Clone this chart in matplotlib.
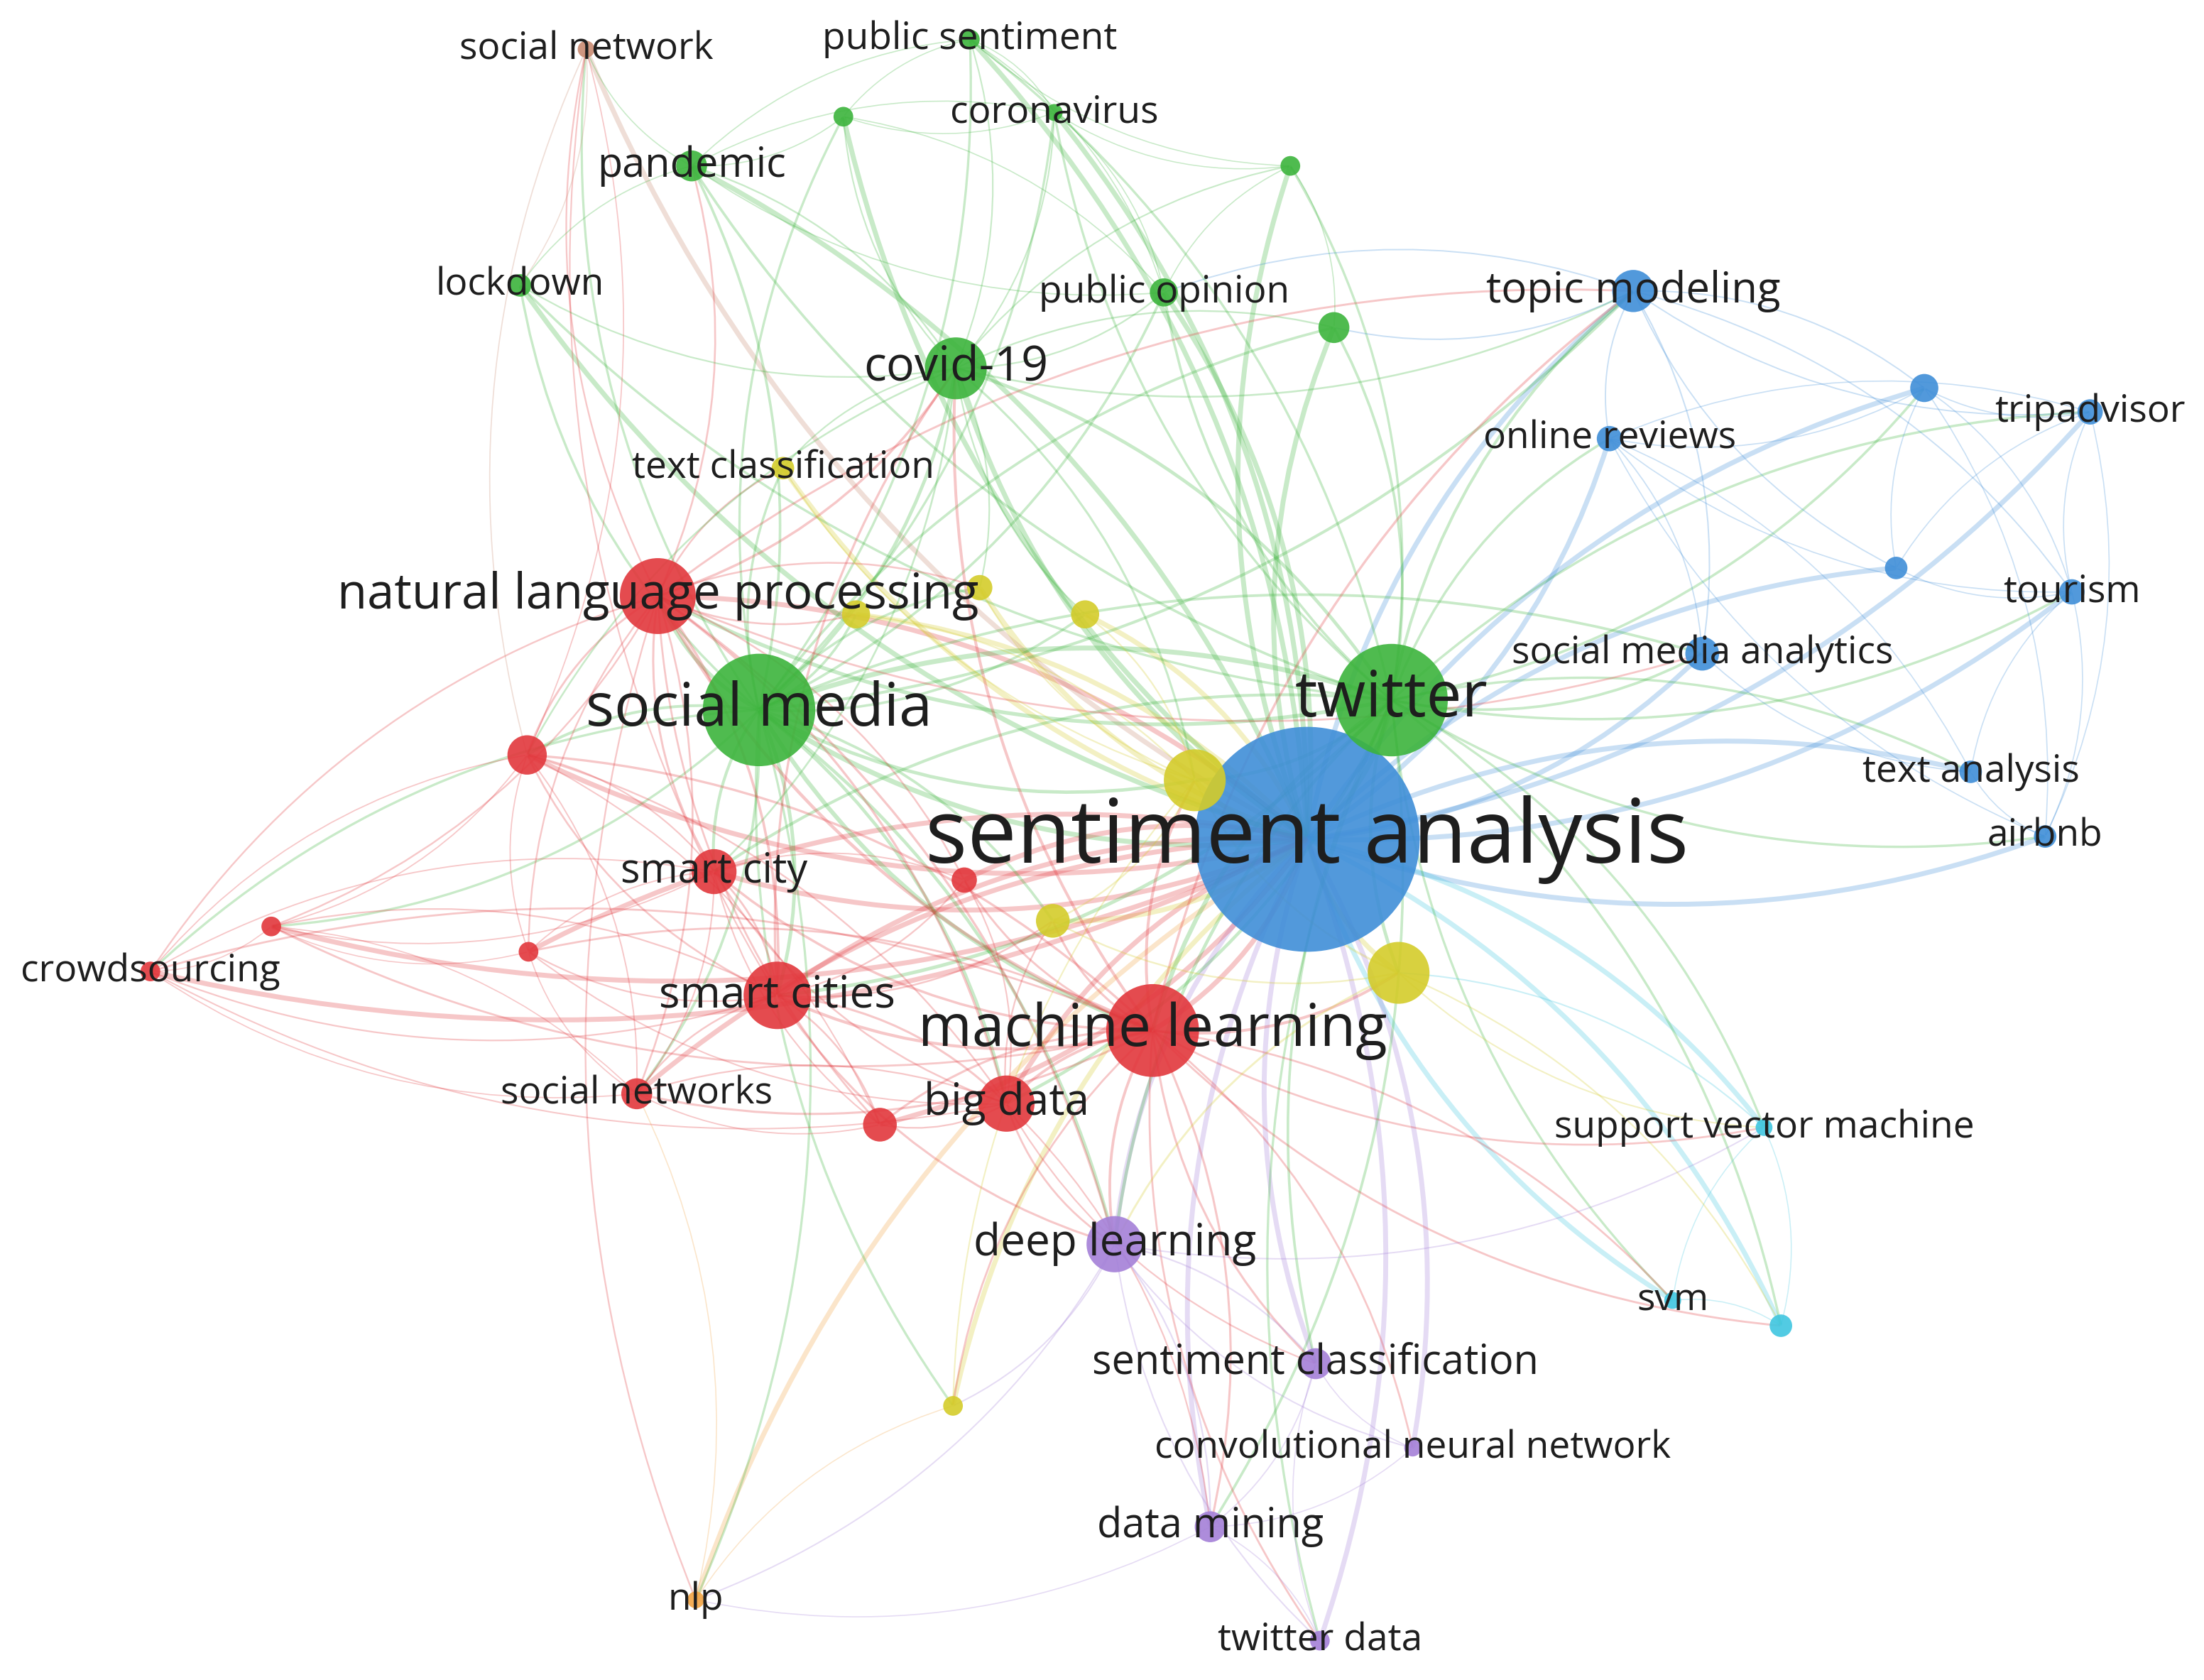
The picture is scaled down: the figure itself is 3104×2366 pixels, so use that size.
import matplotlib
matplotlib.use("Agg")
import matplotlib.pyplot as plt
from matplotlib.patches import FancyArrowPatch

# node data (coordinates in reference half-scale pixels)
keys = ["sa","tw","sm","nlp","ml","sc","cov","bd","scity","dl","tm","sma",
        "y1","y2","y3","y4","y5","y6","tc","y7",
        "r1","r2","r3","sn","r4","r5","crowd",
        "pan","lock","ps","g1","coro","g2","po","g3",
        "or","b1","trip","b2","tour","ta","air",
        "svm1","svm","c1","scl","cnn","dm","td","nlpo","snet"]
labels = ["sentiment analysis","twitter","social media","natural language processing","machine learning",
          "smart cities","covid-19","big data","smart city","deep learning","topic modeling","social media analytics",
          "","","","","","","text classification","",
          "","","","social networks","","","crowdsourcing",
          "pandemic","lockdown","public sentiment","","coronavirus","","public opinion","",
          "online reviews","","tripadvisor","","tourism","text analysis","airbnb",
          "support vector machine","svm","","sentiment classification","convolutional neural network",
          "data mining","twitter data","nlp","social network"]
xs = [930,990,540,468,820,553,680,716,508,793,1162,1211,
      850,995,749,772,697,609,557,678,
      375,686,626,453,376,193,107,
      492,370,690,600,750,918,828,949,
      1145,1369,1487,1349,1474,1402,1455,
      1255,1190,1267,936,1005,861,939,495,417]
ys = [597,498,505,424,733,708,262,785,620,885,207,465,
      555,692,655,437,418,437,333,1000,
      537,626,800,778,677,659,691,
      118,203,28,83,80,118,208,233,
      312,276,293,404,421,549,595,
      802,925,943,970,1030,1086,1167,1138,35]
radii = [80,40,40,27,33,24,22,20,16,20,15,12,
         22,22,12,10,9,10,8,7,
         14,9,12,11,7,7,7,
         11,8,7,7,6,7,10,11,
         9,10,9,8,9,8,8,
         6,6,8,11,6,11,7,6,6]
clusters = ["b","g","g","r","r","r","g","r","r","p","b","b",
            "y","y","y","y","y","y","y","y",
            "r","r","r","r","r","r","r",
            "g","g","g","g","g","g","g","g",
            "b","b","b","b","b","b","b",
            "c","c","c","p","p","p","p","o","n"]
fsizes = [56,40,38,31,37,28,30,28,26,28,27,24,
          0,0,0,0,0,0,24,0,
          0,0,0,24,0,0,24,
          26,24,24,0,24,0,24,0,
          24,0,24,0,24,24,24,
          24,24,0,26,24,26,24,24,24]

neighbors = {
 "sa": ["tw","sm","nlp","ml","sc","cov","bd","scity","dl","tm","sma","y1","y2","y3","y4","y5","y6","tc","y7",
        "r1","r2","r3","sn","crowd","pan","lock","ps","g1","coro","g2","po","g3","or","b1","trip","b2","tour",
        "ta","air","svm1","svm","c1","scl","cnn","dm","td","nlpo","snet","r4","r5"],
 "tw": ["sm","nlp","ml","sc","cov","bd","dl","tm","sma","y1","y2","po","g3","or","b1","trip","tour","ta","air",
        "svm1","svm","c1","scl","dm","td","pan","ps","coro","g2","lock","scity"],
 "sm": ["nlp","ml","sc","cov","bd","scity","dl","tm","sma","y1","y3","y4","y5","y6","tc","r1","sn","pan","lock",
        "po","g3","crowd","r5","ps","g1","coro","nlpo","y7","snet"],
 "nlp": ["ml","sc","cov","bd","scity","dl","r1","r2","r3","sn","crowd","r5","r4","y5","y6","tc","pan","snet","nlpo","tm","sma"],
 "ml": ["sc","bd","scity","dl","cov","r1","r2","r3","sn","r4","r5","crowd","y1","y2","y3","svm1","svm","scl","dm","td","tm","c1","cnn","y7"],
 "sc": ["bd","scity","r1","r2","r3","sn","r4","r5","crowd","dl","cov","y3","snet"],
 "cov": ["pan","lock","ps","g1","coro","g2","po","g3","tc","y1","y4","y5","tm","scity","r1"],
 "bd": ["scity","r1","r3","sn","r4","dl","dm","scl","y3","r2","crowd"],
 "scity": ["r1","r2","r3","sn","r4","r5","crowd"],
 "r1": ["sn","r4","r5","crowd","r3","snet"],
 "sn": ["r4","r5","crowd","r3"],
 "r5": ["crowd","r4"],
 "dl": ["scl","cnn","dm","td","y7","svm1","nlpo"],
 "scl": ["cnn","dm","td"],
 "dm": ["td","cnn","nlpo"],
 "tm": ["or","b1","trip","sma","b2","tour","po","g3"],
 "or": ["b1","trip","tour","sma","air","ta"],
 "b1": ["trip","tour","b2","air"],
 "trip": ["tour","air","b2"],
 "tour": ["air","ta","b2"],
 "ta": ["air","sma"],
 "svm1": ["svm","c1","y2"],
 "svm": ["c1"],
 "pan": ["lock","ps","g1","coro","po","snet"],
 "ps": ["g1","coro","g2","po"],
 "g1": ["coro","po"],
 "coro": ["g2","po"],
 "g2": ["po","g3"],
 "y1": ["y2","y3","y4","y5","y6","tc","y7"],
 "y2": ["y3","svm1","c1","dl"],
 "nlpo": ["y7","sn"],
 "snet": ["lock","r1"],
}

colors = {"r":"#e2373c","g":"#3cb43c","b":"#3f8ed8","y":"#d4cc2a","p":"#a480d8",
          "c":"#3fc6e0","o":"#f2a444","n":"#c98b72"}

S = 3104/1568.0
fig = plt.figure(figsize=(31.04, 23.66), dpi=100)
ax = fig.add_axes([0,0,1,1])
ax.set_xlim(0,1568); ax.set_ylim(1195,0); ax.axis("off")
idx = {k:i for i,k in enumerate(keys)}

n = 0
for a, lst in neighbors.items():
    for b in lst:
        i, j = idx[a], idx[b]
        big = radii[i] + radii[j]
        lw = 1.0 + (big/40.0)**2 * 1.0
        rad = 0.18 if n % 2 == 0 else -0.18
        col = colors[clusters[j]] if a == "sa" else colors[clusters[i]]
        p = FancyArrowPatch((xs[i],ys[i]),(xs[j],ys[j]),connectionstyle=f"arc3,rad={rad}",
                            arrowstyle="-",color=col,alpha=0.28,lw=min(lw,5),zorder=1)
        ax.add_patch(p); n += 1

for i,k in enumerate(keys):
    s = (2*radii[i]*S*0.72)**2
    ax.scatter(xs[i],ys[i],s=s,color=colors[clusters[i]],alpha=0.9,edgecolors="none",zorder=2)

for i,k in enumerate(keys):
    if labels[i]:
        ax.text(xs[i],ys[i],labels[i],ha="center",va="center",fontsize=fsizes[i]*S*0.72*1.12,
                family=["Open Sans","DejaVu Sans"],color="#1e1e1e",zorder=3)

fig.savefig("out.png",dpi=100,facecolor="white")
